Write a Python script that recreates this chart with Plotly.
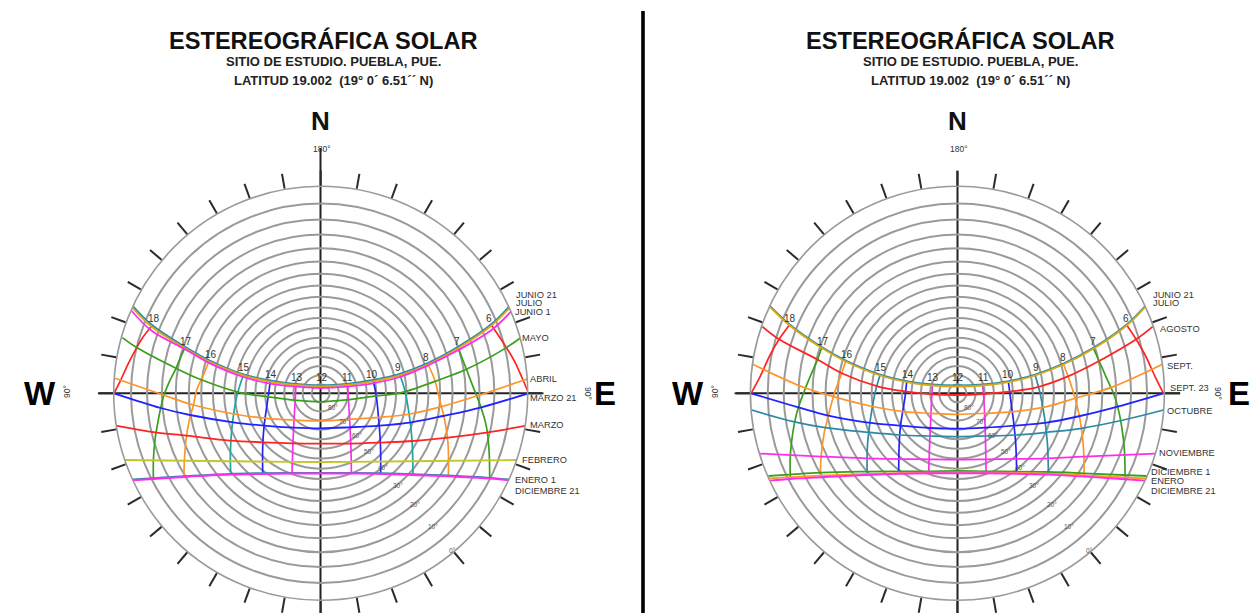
import math
import plotly.graph_objects as go

W, H = 1258, 613
RAD = 207.0  # plane units at the outer (0 deg altitude) ring

TITLE = "ESTEREOGRÁFICA SOLAR"
SUB1 = "SITIO DE ESTUDIO. PUEBLA, PUE."
SUB2 = "LATITUD 19.002  (19° 0´ 6.51´´ N)"
RING_ALTITUDES = [0, 5, 10, 15, 20, 25, 30, 35, 40, 45, 50, 55, 60, 65, 70, 75, 80, 85]
RING_LABELS = ["80°", "70°", "60°", "50°", "40°", "30°", "20°", "10°", "0°"]
HOUR_LABELS = ["18", "17", "16", "15", "14", "13", "12", "11", "10", "9", "8", "7", "6"]

# colours
RED, ORANGE, GREEN, TEAL, TEAL2, BLUE, MAGENTA, OLIVE, GOLD = (
    "#ff2424", "#ff9428", "#38a01c", "#1fa3a3", "#2a8aa8", "#2222ff", "#ff2cf0", "#c4c42c", "#d8a818")

# ---- left panel: month curves (x east, y south, stereographic plane units)
L_JUNIO_21 = [(-188,-87.5),(-169,-68.5),(-135.7,-46.5),(-112,-33.3),(-77.3,-19),(-50.7,-13),(-24.7,-9.3),(0,-8),(26,-9.3),(52,-13.3),(79,-19.5),(107.5,-30.5),(137.3,-46.5),(170.5,-69),(189,-87.5)]
L_JULIO = [(-188.5,-86),(-169,-66.5),(-135.7,-45),(-112,-32),(-77.3,-18),(-50.7,-11.7),(-24.7,-8.3),(0,-7),(26,-8.3),(52,-12),(79,-18),(107.5,-29),(137.3,-45),(170.5,-67.5),(189.5,-86)]
L_JUNIO_1 = [(-189,-82.3),(-169,-62.5),(-135.7,-44),(-112.3,-30.7),(-77.3,-16.3),(-50.7,-9.7),(-24.7,-6.7),(0,-5.3),(26,-6.7),(52,-10),(79,-16.3),(107.5,-28),(137.3,-43),(170.5,-63),(190.5,-82)]
L_MAYO = [(-198.3,-55.7),(-184,-45.7),(-144.7,-25),(-120.7,-14),(-80.7,-0.7),(-54,3.3),(-24.7,7),(0,8.5),(27,6.5),(54,2.9),(80.7,-0.7),(120.7,-14.3),(145.7,-24),(185.7,-45.7),(200.7,-56)]
L_ABRIL = [(-205.7,-15),(-157.3,1.7),(-127.3,11.7),(-80.7,21.7),(-54,25),(-27.3,26.7),(0,27.7),(29,26),(59,24),(89,20.7),(120.7,13.3),(159,1.7),(208,-15)]
L_MARZO_21 = [(-206.7,0),(-160,14.7),(-130.7,21.7),(-87.3,29),(-56.7,32.3),(-27.3,34.3),(0,35),(29,34),(59,32.3),(90.7,29),(122.3,22.7),(160.7,14),(208,0)]
L_MARZO = [(-204.7,32.3),(-165.7,39),(-134,42.3),(-90.7,47.3),(-57.3,49),(-27.3,50),(0,50.3),(29,50.3),(59,49.3),(92.3,47.7),(127.3,44.3),(167.3,39),(205.7,32.3)]
L_FEBRERO = [(-196,66.7),(-90,68),(0,68.7),(90,68),(197,66.7)]
L_ENERO_1 = [(-188,86.2),(-135.7,82.8),(-90.7,80.5),(-58,79.8),(-28,79.5),(0,79.5),(30.7,79.5),(60,79.8),(91.3,80.8),(127,82.2),(169,84.5),(189,86.2)]
L_DICIEMBRE_21 = [(-188,87),(-135.7,83.6),(-90.7,81.3),(-58,80.6),(-28,80.3),(0,80.3),(30.7,80.3),(60,80.6),(91.3,81.6),(127,83),(169,85.3),(189,87)]

# ---- left panel: hour curves
L_H18 = [(-169,-67.3),(-177.3,-56.7),(-184,-45.7),(-192.3,-30),(-200.7,-11.7),(-206.7,0)]
L_H17 = [(-135.7,-45.7),(-141.3,-33.3),(-144.7,-25),(-151.3,-11.7),(-156.7,1.7),(-160,14.7),(-163,30),(-165.7,46.7),(-167.3,66.7),(-167.3,85)]
L_H16 = [(-111.7,-32.3),(-117.3,-18.3),(-124,-3.3),(-127.3,11.7),(-131.7,28.3),(-134.7,46.7),(-136.3,66.7),(-136.7,83.3)]
L_H15 = [(-77.3,-18.3),(-80.7,-8.3),(-84,3.3),(-86.7,18.3),(-89,36.7),(-90.3,60),(-90,81)]
L_H14 = [(-50.3,-12.7),(-52.3,1.7),(-54.7,18.3),(-56.7,33.3),(-58,53.3),(-58,80.3)]
L_H13 = [(-24.7,-9),(-25.7,10),(-27,33.3),(-28,56.7),(-28.7,80)]
L_H11 = [(26.7,-8.7),(28,10),(29.3,33.3),(30.3,56.7),(30.7,80)]
L_H10 = [(52.3,-13.3),(55.7,3.3),(58,26.7),(59.7,50),(60,80.3)]
L_H9 = [(79,-19),(84,-3.3),(88.3,20),(91.3,46.7),(92.3,81)]
L_H8 = [(107.3,-29.3),(114,-13.3),(119,6.7),(124,26.7),(127.3,50),(127.7,82.7)]
L_H7 = [(137.3,-45.7),(145.7,-24),(152.3,-6.7),(160,13.3),(165.7,33.3),(168.3,56.7),(169,85)]
L_H6 = [(170.7,-68.3),(185.7,-45.7),(194,-31.7),(202.3,-13.3),(208,0)]

# ---- right panel: month curves
R_JUNIO_21 = [(-187.3,-87.2),(-167.7,-68.8),(-135.7,-46.2),(-111.7,-32.8),(-77.3,-18.8),(-50.7,-12.2),(-25,-8.8),(0,-7.8),(25.3,-8.8),(51,-12.2),(77.7,-18.8),(106,-29.8),(136,-45.5),(169.3,-68.8),(187.7,-87.2)]
R_JULIO = [(-187.3,-86.2),(-167.7,-67.8),(-135.7,-45.2),(-111.7,-31.8),(-77.3,-17.8),(-50.7,-11.2),(-25,-7.8),(0,-6.8),(25.3,-7.8),(51,-11.2),(77.7,-17.8),(106,-28.8),(136,-44.5),(169.3,-67.8),(187.7,-86.2)]
R_AGOSTO = [(-195,-66.7),(-178.3,-54),(-139,-33.3),(-115.7,-20),(-79,-6.7),(-51.3,-1.7),(-25,1),(0,1.7),(26,0.7),(52,-1.7),(79.3,-6),(110,-16.7),(141.7,-32.3),(178.7,-54),(195.3,-66.7)]
R_SEPT = [(-204.7,-29),(-154,-6),(-124,3.3),(-87.3,12.7),(-54,18.3),(-26.3,20),(0,21),(27.7,20),(56,18.3),(89.3,13.3),(117.7,5),(156,-6.7),(205,-29)]
R_SEPT_23 = [(-206.3,0),(-159,14),(-129,22.3),(-89,29.3),(-57.3,32.3),(-27.3,34.7),(0,35.3),(27.7,34.3),(57,32.3),(89.3,29.3),(122.7,22.7),(160.3,13.3),(206,0)]
R_OCTUBRE = [(-205.7,16.7),(-164,28.3),(-132.3,34.3),(-89,39),(-57.3,41.7),(-28,42.7),(0,43.3),(27.7,42.7),(57.7,41.7),(89.3,39),(124.3,35),(166,26.7),(206,16.7)]
R_NOVIEMBRE = [(-197.3,60.3),(-135.7,63.3),(-90.7,65),(-28.3,66),(0,66.3),(29.3,66),(91,65),(126,63.3),(197.7,60.3)]
R_DICIEMBRE_1 = [(-189,82.7),(-136.7,79.3),(-90.7,78.3),(-28.3,78),(0,77.7),(28.7,78),(91,78.7),(126.7,80),(189.3,82.7)]
R_ENERO = [(-188.3,85),(-136.7,82.3),(-90.7,80.7),(-28.3,79.3),(0,79),(28.7,79.3),(91,80.3),(126.7,82),(188.5,85.2)]
R_DICIEMBRE_21 = [(-187.3,87.3),(-167.3,85.7),(-136.7,84),(-90.7,81.7),(-28.3,80),(0,80),(28.7,80),(91,81.3),(126.7,83.3),(167.7,86),(187.7,87.3)]

# ---- right panel: hour curves
R_H18 = [(-168,-68.3),(-178.3,-54),(-187.3,-38.3),(-197.3,-16.7),(-206.3,0)]
R_H17 = [(-135.7,-45.7),(-140,-33.3),(-147.3,-16.7),(-153.3,-1.7),(-159,14),(-163,30),(-166,50),(-167.3,66.7),(-167,85)]
R_H16 = [(-111.7,-32.3),(-115.7,-20),(-120.7,-6.7),(-124,3.3),(-129,22.3),(-133.3,40),(-136.3,63.3),(-137,83.3)]
R_H15 = [(-77.3,-18.3),(-81.7,-3.3),(-85,13.3),(-88,33.3),(-90,53.3),(-90.3,80)]
R_H14 = [(-50.7,-11.7),(-52.3,3.3),(-54.7,18.3),(-57,33.3),(-58.3,53.3),(-58.7,79.3)]
R_H13 = [(-25,-8.3),(-26,10),(-27,33.3),(-28,56.7),(-28.7,79.3)]
R_H11 = [(25.3,-7.7),(26.7,10),(27.7,33.3),(28.3,56.7),(28.7,78.3)]
R_H10 = [(51,-11.7),(53.3,6.7),(56,26.7),(58.3,50),(59.3,79.3)]
R_H9 = [(77.7,-18.3),(82.7,0),(87,23.3),(90,50),(91,79.3)]
R_H8 = [(106,-29.3),(112,-13.3),(117.7,5),(122.7,26.7),(126,53.3),(126.7,83.3)]
R_H7 = [(136,-45),(141.7,-32.3),(149.3,-15),(156,0),(160.3,13.3),(164.3,33.3),(167,56.7),(167.7,86)]
R_H6 = [(169.3,-68.3),(178.7,-54),(187.7,-38.3),(197.7,-16.7),(206,0)]

LEFT_HOURS = [(L_H18,RED),(L_H17,GREEN),(L_H16,ORANGE),(L_H15,TEAL),(L_H14,BLUE),(L_H13,MAGENTA),
              (L_H11,MAGENTA),(L_H10,BLUE),(L_H9,TEAL),(L_H8,ORANGE),(L_H7,GREEN),(L_H6,RED)]
LEFT_MONTHS = [(L_JUNIO_21,TEAL2,1.8),(L_JULIO,GOLD,1.8),(L_JUNIO_1,MAGENTA,1.8),(L_MAYO,GREEN,1.7),(L_ABRIL,ORANGE,1.7),
               (L_MARZO_21,BLUE,1.8),(L_MARZO,RED,1.8),(L_FEBRERO,OLIVE,1.9),(L_ENERO_1,TEAL2,1.8),(L_DICIEMBRE_21,MAGENTA,2.0)]
RIGHT_HOURS = [(R_H18,RED),(R_H17,GREEN),(R_H16,ORANGE),(R_H15,TEAL2),(R_H14,BLUE),(R_H13,MAGENTA),
               (R_H11,MAGENTA),(R_H10,BLUE),(R_H9,TEAL2),(R_H8,ORANGE),(R_H7,GREEN),(R_H6,RED)]
RIGHT_MONTHS = [(R_JUNIO_21,TEAL2,1.8),(R_JULIO,GOLD,1.8),(R_AGOSTO,RED,1.8),(R_SEPT,ORANGE,1.7),(R_SEPT_23,BLUE,1.8),(R_OCTUBRE,TEAL2,1.7),
                (R_NOVIEMBRE,MAGENTA,1.8),(R_DICIEMBRE_1,GREEN,1.8),(R_ENERO,ORANGE,1.8),(R_DICIEMBRE_21,MAGENTA,1.9)]

LEFT_MONTH_TEXT = [("JUNIO 21",295),("JULIO",303),("JUNIO 1",312),("MAYO",338),("ABRIL",379),("MARZO 21",398),("MARZO",425),("FEBRERO",460),("ENERO 1",480),("DICIEMBRE 21",491)]
LEFT_MONTH_X = [514,514,513,520,528,528,528,520,513,513]
RIGHT_MONTH_TEXT = [("JUNIO 21",295),("JULIO",303),("AGOSTO",329),("SEPT.",366),("SEPT. 23",388),("OCTUBRE",411),("NOVIEMBRE",453),("DICIEMBRE 1",472),("ENERO",481),("DICIEMBRE 21",491)]
RIGHT_MONTH_X = [1151,1151,1158,1165,1168,1165,1157,1149,1149,1149]

LEFT_HOUR_POS = [(154,318),(186,341),(211,354),(244,367),(271,374),(297,377),(322,378),(347,377),(372,374),(398,367),(426,357),(457,341),(489,318)]
RIGHT_HOUR_POS = [(790,318),(823,341),(847,354),(881,367),(908,374),(933,377),(958,378),(983,377),(1008,374),(1036,367),(1063,357),(1093,341),(1126,318)]
RING_LABEL_POS = [(332.7,407.3),(344,421),(356.7,436),(369.3,451),(383.3,467.3),(397.7,485),(415,504.3),(432.7,526.7),(452.7,550)]

CX_L, CX_R, CY = 320.7, 957.4, 393.3


def to_polar(points):
    r = [math.hypot(x, y) / RAD for x, y in points]
    t = [math.degrees(math.atan2(x, -y)) % 360 for x, y in points]
    return r, t


def ring_r(alt):
    return math.tan(math.radians((90 - alt) / 2))


fig = go.Figure()
for sub, hours, months in (("polar", LEFT_HOURS, LEFT_MONTHS), ("polar2", RIGHT_HOURS, RIGHT_MONTHS)):
    for pts, col in hours:
        r, t = to_polar(pts)
        fig.add_trace(go.Scatterpolar(r=r, theta=t, mode="lines", subplot=sub, hoverinfo="skip", showlegend=False,
                                      line=dict(color=col, width=1.7, shape="spline", smoothing=1.0)))
    for pts, col, w in months:
        r, t = to_polar(pts)
        fig.add_trace(go.Scatterpolar(r=r, theta=t, mode="lines", subplot=sub, hoverinfo="skip", showlegend=False,
                                      line=dict(color=col, width=w, shape="spline", smoothing=1.0)))


def polar_layout(cx):
    return dict(
        domain=dict(x=[(cx - RAD) / W, (cx + RAD) / W], y=[(H - CY - RAD) / H, (H - CY + RAD) / H]),
        bgcolor="rgba(0,0,0,0)",
        radialaxis=dict(range=[0, 1], tickmode="array", tickvals=[ring_r(a) for a in RING_ALTITUDES],
                        showticklabels=False, ticks="", showline=False, gridcolor="#9a9a9a", gridwidth=1.6),
        angularaxis=dict(direction="clockwise", rotation=90, tickmode="linear", tick0=0, dtick=10,
                         showticklabels=False, ticks="outside", ticklen=15, tickwidth=1.7, tickcolor="#2a2a2a",
                         showgrid=False, showline=True, linecolor="#9a9a9a", linewidth=1.6),
    )


def label(text, x, y, size, bold=False, color="#222222", xanchor="center", angle=0):
    return dict(text=f"<b>{text}</b>" if bold else text, x=x / W, y=1 - y / H, xref="paper", yref="paper",
                xanchor=xanchor, yanchor="middle", showarrow=False, textangle=angle,
                font=dict(family="Liberation Sans", size=size, color=color))


ann = []
for cx in (322.7, 959.5):
    ann.append(label(TITLE, cx, 40, 23.6, True, "#111111"))
for cx in (333.5, 970):
    ann.append(label(SUB1, cx, 61, 13, True))
    ann.append(label(SUB2, cx, 81, 13, True))
for nx, wx, ex, deg, w90, e90 in ((320, 40, 605, 322, 67, 588), (957, 688, 1239, 959, 715, 1218)):
    ann.append(label("N", nx, 121, 26, True, "#111111"))
    ann.append(label("W", wx, 393, 33, True, "#000000"))
    ann.append(label("E", ex, 393, 33, True, "#000000"))
    ann.append(label("180°", deg, 149, 8.5, False, "#333333"))
    ann.append(label("90°", w90, 392, 8.5, False, "#333333", angle=-90))
    ann.append(label("90°", e90, 393, 8.5, False, "#333333", angle=90))
for (t, y), x in zip(LEFT_MONTH_TEXT, LEFT_MONTH_X):
    ann.append(label(t, x, y, 9.3, xanchor="left", color="#333333"))
for (t, y), x in zip(RIGHT_MONTH_TEXT, RIGHT_MONTH_X):
    ann.append(label(t, x, y, 9.3, xanchor="left", color="#333333"))
for t, (x, y) in zip(HOUR_LABELS, LEFT_HOUR_POS):
    ann.append(label(t, x, y, 10, color="#333333"))
for t, (x, y) in zip(HOUR_LABELS, RIGHT_HOUR_POS):
    ann.append(label(t, x, y, 10, color="#333333"))
for t, (x, y) in zip(RING_LABELS, RING_LABEL_POS):
    ann.append(label(t, x, y, 6.5, color="#555555"))
    ann.append(label(t, x + 636.7, y, 6.5, color="#555555"))


def seg(x0, y0, x1, y1, width=2.0, color="#222222"):
    return dict(type="line", xref="paper", yref="paper", layer="below", x0=x0 / W, x1=x1 / W, y0=1 - y0 / H, y1=1 - y1 / H,
                line=dict(color=color, width=width))


shapes = [
    seg(643, 11, 643, 613, 3.6, "#000000"),
    seg(99, CY, 542, CY), seg(320.5, 148, 320.5, 613),
    seg(736, CY, 1180, CY), seg(957.5, 171, 957.5, 613),
]

fig.update_layout(
    width=W, height=H, margin=dict(l=0, r=0, t=0, b=0), paper_bgcolor="white", plot_bgcolor="white",
    showlegend=False, polar=polar_layout(CX_L), polar2=polar_layout(CX_R), annotations=ann, shapes=shapes,
)
fig.write_html("out.html", config={"displayModeBar": False},
               post_script="document.body.style.margin='0';document.documentElement.style.overflow='hidden';")
